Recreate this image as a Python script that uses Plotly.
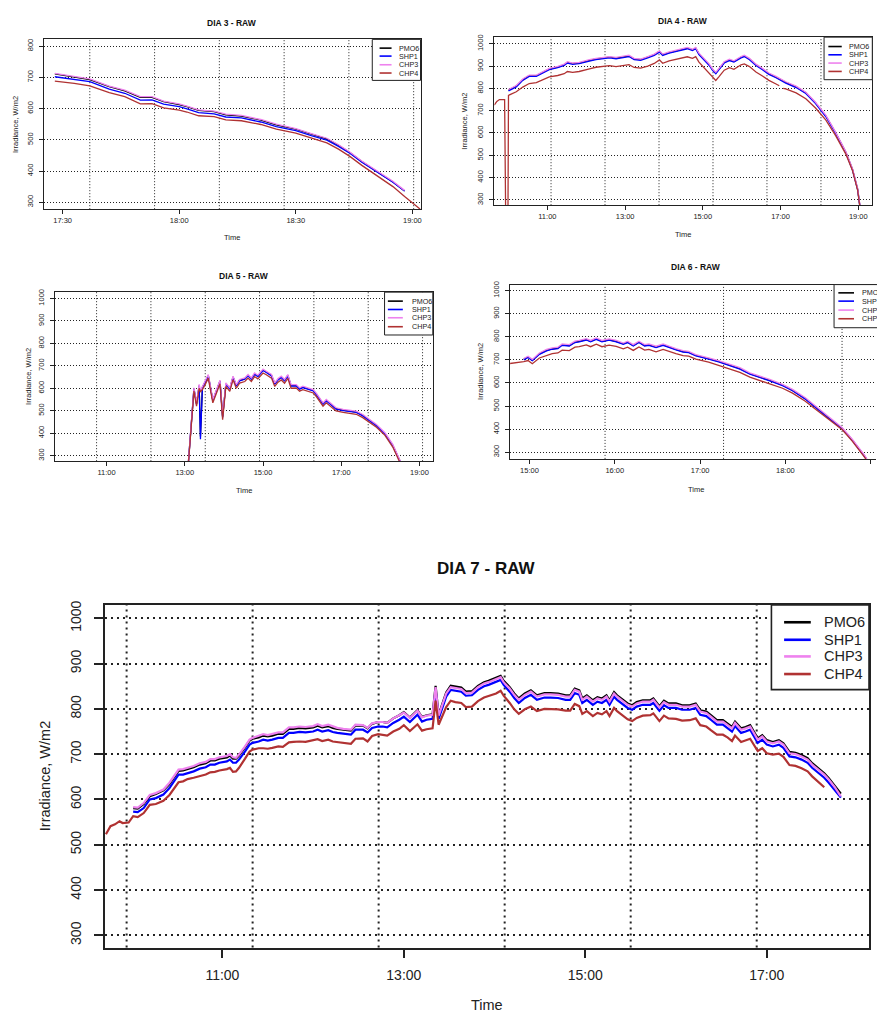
import plotly.graph_objects as go

W, H = 877, 1015
DAY = "2014-01-01 "
FONT = "Liberation Sans, Arial, Helvetica, sans-serif"

SERIES_NAMES = ["PMO6", "SHP1", "CHP3", "CHP4"]
SERIES_COLORS = ["#000000", "#0000ff", "#ee82ee", "#b03232"]

# ---------------- DIA 3 ----------------
dia3_time = ["17:28", "17:33", "17:37", "17:42", "17:46", "17:50", "17:53", "17:56", "18:00", "18:02",
             "18:05", "18:09", "18:12", "18:16", "18:21", "18:25", "18:30", "18:34", "18:38", "18:41",
             "18:44", "18:47", "18:51", "18:55", "18:58", "19:03"]
dia3_pmo6 = [711, 702, 693, 670, 657, 636, 636, 622, 613, 606, 594, 590, 580, 576, 563, 548, 534, 518,
             503, 482, 458, 430, 397, 365, 336, None]
dia3_shp1 = [702, 694, 686, 662, 649, 627, 628, 614, 606, 599, 587, 583, 573, 570, 557, 542, 529, 513,
             499, 479, 456, 428, 396, 364, 336, None]
dia3_chp3 = [713, 704, 695, 672, 659, 638, 638, 624, 615, 608, 596, 592, 582, 578, 565, 550, 536, 520,
             505, 484, 460, 432, 399, 367, 338, None]
dia3_chp4 = [688, 681, 673, 651, 638, 615, 616, 602, 595, 589, 577, 574, 564, 561, 549, 534, 521, 505,
             490, 470, 446, 418, 385, 350, 318, 268]
dia3_xticks = ["17:30", "18:00", "18:30", "19:00"]
dia3_yticks = [300, 400, 500, 600, 700, 800]
dia3_vgrid = ["17:37:00", "17:53:40", "18:10:20", "18:27:00", "18:43:40", "19:00:20"]

# ---------------- DIA 4 ----------------
dia4_time = ["09:38", "09:42", "09:46", "09:54", "09:56", "09:59", "10:00", "10:12", "10:22", "10:32",
             "10:43", "10:53", "11:03", "11:16", "11:26", "11:31", "11:39", "11:49", "11:57", "12:05",
             "12:15", "12:25", "12:36", "12:46", "12:56", "13:06", "13:14", "13:24", "13:35", "13:45",
             "13:53", "13:58", "14:08", "14:19", "14:29", "14:36", "14:44", "14:49", "14:54", "15:02",
             "15:10", "15:15", "15:20", "15:25", "15:33", "15:41", "15:48", "15:59", "16:04", "16:12",
             "16:22", "16:32", "16:42", "16:53", "16:58", "17:01", "17:04", "17:08", "17:24", "17:39",
             "17:54", "18:10", "18:25", "18:41", "18:51", "18:59", "19:03"]
dia4_pmo6 = [None, None, None, None, None, None, 792, 810, 839, 857, 857, 872, 887, 896, 906, 917, 911,
             914, 921, 926, 932, 936, 940, 936, 940, 946, 932, 929, 940, 951, 966, 951, 961, 970, 976,
             981, 973, 981, 955, 928, 906, 884, 869, 887, 917, 928, 921, 940, 946, 932, 906, 887, 866,
             851, 842, 836, 831, 827, 807, 780, 735, 676, 601, 512, 437, 348, 261]
dia4_shp1 = [None, None, None, None, None, None, 789, 807, 836, 854, 854, 869, 884, 893, 903, 914, 908,
             911, 918, 923, 929, 933, 937, 933, 937, 943, 929, 926, 937, 948, 963, 948, 958, 967, 973,
             978, 970, 978, 952, 925, 903, 881, 866, 884, 914, 925, 918, 937, 943, 929, 903, 884, 863,
             848, 839, 833, 828, 824, 804, 777, 732, 673, 598, 509, 434, 345, 258]
dia4_chp3 = [None, None, None, None, None, None, 795, 813, 842, 860, 860, 875, 890, 899, 909, 920, 914,
             917, 924, 929, 935, 939, 943, 939, 943, 949, 935, 932, 943, 954, 969, 954, 964, 973, 979,
             984, 976, 984, 958, 931, 909, 887, 872, 890, 920, 931, 924, 943, 949, 935, 909, 890, 869,
             854, 845, 839, 834, 830, 810, 783, 738, 679, 604, 515, 440, 351, 264]
dia4_chp4 = [725, 742, 750, 750, 120, 120, 769, 785, 806, 822, 826, 840, 852, 858, 866, 876, 872, 876,
             883, 888, 895, 899, 902, 898, 901, 907, 894, 891, 900, 912, 928, 913, 924, 932, 938, 942,
             935, 943, 918, 892, 871, 850, 836, 853, 882, 893, 886, 906, 910, 898, 874, 856, 836, 820,
             812, None, 800, 798, 780, 754, 712, 658, 588, 504, 432, 343, 255]
dia4_xticks = ["11:00", "13:00", "15:00", "17:00", "19:00"]
dia4_yticks = [300, 400, 500, 600, 700, 800, 900, 1000]
dia4_vgrid = ["11:05:40", "12:29:00", "13:52:20", "15:15:40", "16:39:00", "18:02:20"]

# ---------------- DIA 5 ----------------
dia5_time = ["13:05", "13:14", "13:18", "13:22", "13:24", "13:27", "13:31", "13:36", "13:43", "13:54",
             "13:58", "14:03", "14:09", "14:14", "14:19", "14:24", "14:32", "14:37", "14:42", "14:47",
             "14:52", "15:00", "15:05", "15:13", "15:18", "15:23", "15:28", "15:33", "15:38", "15:43",
             "15:51", "15:56", "16:01", "16:09", "16:17", "16:22", "16:27", "16:32", "16:37", "16:45",
             "16:52", "17:03", "17:13", "17:23", "17:33", "17:43", "17:54", "18:07", "18:19", "18:32"]
dia5_pmo6 = [252, 598, 531, 612, 385, 605, 627, 657, 546, 632, 474, 620, 598, 650, 612, 635, 642, 657,
             642, 664, 654, 681, 672, 657, 620, 639, 650, 635, 657, 612, 612, 598, 605, 598, 590, 573,
             553, 531, 546, 524, 509, 502, 499, 494, 479, 457, 435, 398, 346, 264]
dia5_shp1 = [250, 596, 529, 610, 373, 603, 625, 655, 544, 630, 470, 618, 596, 648, 610, 633, 640, 655,
             640, 662, 652, 679, 670, 655, 618, 637, 648, 633, 655, 610, 610, 596, 603, 596, 588, 571,
             551, 529, 544, 522, 507, 500, 497, 492, 477, 455, 433, 396, 344, 262]
dia5_chp3 = [254, 602, 535, 617, 590, 609, 631, 661, 550, 636, 478, 624, 602, 654, 616, 639, 646, 661,
             646, 668, 658, 685, 676, 661, 624, 643, 654, 639, 661, 616, 616, 602, 609, 602, 594, 577,
             557, 535, 550, 528, 513, 506, 503, 498, 483, 461, 439, 402, 350, 266]
dia5_chp4 = [245, 588, 520, 600, 585, 594, 615, 645, 535, 620, 460, 608, 586, 638, 600, 623, 630, 645,
             630, 652, 642, 668, 660, 645, 608, 627, 637, 622, 644, 600, 601, 587, 594, 587, 579, 562,
             542, 520, 535, 514, 499, 492, 489, 484, 469, 447, 426, 390, 338, 256]
dia5_xticks = ["11:00", "13:00", "15:00", "17:00", "19:00"]
dia5_yticks = [300, 400, 500, 600, 700, 800, 900, 1000]
dia5_vgrid = ["10:44:40", "12:08:00", "13:31:20", "14:54:40", "16:18:00", "17:41:20", "19:04:40"]

# ---------------- DIA 6 ----------------
dia6_time = ["14:46", "14:50", "14:55", "14:56", "14:59", "15:02", "15:07", "15:12", "15:16", "15:20",
             "15:23", "15:28", "15:32", "15:35", "15:40", "15:43", "15:47", "15:51", "15:56", "16:01",
             "16:06", "16:09", "16:13", "16:17", "16:21", "16:24", "16:29", "16:34", "16:38", "16:43",
             "16:48", "16:52", "16:57", "17:02", "17:06", "17:13", "17:21", "17:28", "17:35", "17:42",
             "17:49", "17:58", "18:05", "18:14", "18:21", "18:31", "18:40", "18:47", "18:56", "19:01"]
dia6_pmo6 = [None, None, None, 703, 712, 698, 726, 741, 748, 751, 765, 762, 777, 780, 788, 780, 791,
             780, 787, 780, 769, 777, 762, 777, 762, 765, 755, 765, 755, 745, 736, 733, 719, 712, 705,
             693, 676, 662, 640, 626, 611, 590, 568, 532, 496, 446, 403, 353, 281, 227]
dia6_shp1 = [None, None, None, 700, 710, 696, 724, 739, 746, 749, 763, 760, 775, 778, 786, 778, 789,
             778, 785, 778, 767, 775, 760, 775, 760, 763, 753, 763, 753, 743, 734, 731, 717, 710, 703,
             691, 674, 660, 638, 624, 609, 588, 566, 530, 494, 444, 401, 351, 279, 225]
dia6_chp3 = [None, None, None, 706, 716, 702, 730, 745, 752, 755, 769, 766, 781, 784, 792, 784, 795,
             784, 791, 784, 773, 781, 766, 781, 766, 769, 759, 769, 759, 749, 740, 737, 723, 716, 709,
             697, 680, 666, 644, 630, 615, 594, 572, 536, 500, 450, 406, 356, 284, 230]
dia6_chp4 = [684, 686, 691, 692, 697, 683, 708, 720, 727, 730, 742, 740, 755, 757, 765, 757, 768, 757,
             764, 758, 748, 755, 741, 756, 742, 745, 735, 745, 736, 727, 718, 716, 703, 697, 690, 676,
             660, 646, 625, 611, 597, 577, 556, 521, 487, 438, 397, 348, 275, 222]
dia6_xticks = ["15:00", "16:00", "17:00", "18:00", "19:00"]
dia6_yticks = [300, 400, 500, 600, 700, 800, 900, 1000]
dia6_vgrid = ["15:53:10", "17:16:30", "18:39:50"]

# ---------------- DIA 7 ----------------
dia7_time = ["09:43", "09:46", "09:49", "09:52", "09:54", "09:58", "10:01", "10:04", "10:08", "10:12",
             "10:16", "10:21", "10:25", "10:28", "10:31", "10:34", "10:37", "10:41", "10:45", "10:49",
             "10:52", "10:55", "10:58", "11:03", "11:05", "11:07", "11:09", "11:11", "11:15", "11:18",
             "11:20", "11:24", "11:27", "11:30", "11:33", "11:37", "11:40", "11:44", "11:47", "11:51",
             "11:55", "12:00", "12:03", "12:06", "12:10", "12:13", "12:16", "12:20", "12:25", "12:28",
             "12:33", "12:36", "12:39", "12:43", "12:46", "12:49", "12:53", "12:57", "13:00", "13:04",
             "13:07", "13:09", "13:12", "13:15", "13:19", "13:21", "13:23", "13:28", "13:31", "13:34",
             "13:38", "13:41", "13:45", "13:49", "13:53", "13:56", "14:01", "14:04", "14:06", "14:10",
             "14:13", "14:16", "14:20", "14:24", "14:28", "14:33", "14:37", "14:42", "14:47", "14:50",
             "14:53", "14:56", "14:58", "15:01", "15:05", "15:08", "15:11", "15:14", "15:16", "15:19",
             "15:21", "15:25", "15:28", "15:31", "15:34", "15:38", "15:43", "15:45", "15:49", "15:52",
             "15:55", "16:00", "16:04", "16:09", "16:13", "16:16", "16:20", "16:23", "16:27", "16:31",
             "16:34", "16:37", "16:39", "16:43", "16:46", "16:49", "16:54", "16:57", "17:00", "17:04",
             "17:08", "17:11", "17:15", "17:19", "17:23", "17:27", "17:30", "17:34", "17:38", "17:41",
             "17:45", "17:49"]
dia7_pmo6 = [None, None, None, None, None, None, 581, 580, 590, 607,
             612, 620, 634, 649, 663, 664, 667, 671, 677, 680,
             686, 686, 690, 693, 697, 690, 690, 697, 715, 730,
             734, 737, 741, 739, 741, 745, 745, 756, 756, 758,
             757, 759, 763, 759, 762, 758, 756, 754, 752, 763,
             763, 757, 767, 771, 771, 769, 779, 786, 793, 781,
             790, 797, 782, 786, 788, 851, 787, 836, 851, 849,
             847, 838, 839, 851, 859, 862, 868, 873, 862, 848,
             834, 823, 834, 841, 830, 835, 835, 834, 830, 830,
             845, 841, 823, 830, 819, 826, 823, 830, 819, 837,
             830, 819, 812, 808, 815, 819, 819, 823, 806, 818,
             812, 812, 808, 808, 812, 797, 794, 786, 775, 775,
             768, 760, 772, 757, 760, 764, 735, 742, 731, 727,
             731, 724, 705, 703, 698, 691, 680, 669, 658, 647,
             630, 613]
dia7_shp1 = [None, None, None, None, None, None, 573, 572, 581, 600,
             603, 611, 625, 640, 655, 655, 658, 662, 668, 671,
             677, 677, 681, 684, 688, 681, 681, 688, 706, 721,
             725, 728, 732, 730, 732, 736, 736, 747, 747, 749,
             748, 750, 754, 750, 753, 749, 747, 745, 743, 754,
             754, 748, 758, 761, 761, 759, 769, 776, 783, 771,
             780, 787, 772, 776, 778, 842, 778, 827, 842, 840,
             838, 829, 830, 842, 850, 853, 859, 864, 853, 838,
             824, 813, 824, 831, 820, 825, 825, 824, 820, 820,
             835, 831, 813, 820, 809, 816, 813, 820, 809, 827,
             820, 809, 802, 798, 805, 809, 809, 813, 796, 808,
             802, 802, 798, 798, 802, 787, 784, 776, 765, 765,
             758, 750, 762, 747, 750, 754, 725, 732, 721, 717,
             721, 714, 695, 693, 688, 681, 670, 659, 648, 637,
             620, 604]
dia7_chp3 = [None, None, None, None, None, None, 583, 582, 592, 610,
             614, 622, 637, 652, 666, 667, 670, 674, 680, 683,
             689, 689, 693, 696, 700, 693, 692, 699, 717, 732,
             736, 740, 744, 742, 744, 748, 748, 759, 759, 761,
             760, 762, 766, 762, 765, 761, 758, 756, 754, 765,
             764, 758, 768, 771, 771, 769, 779, 786, 792, 780,
             789, 796, 781, 785, 787, 848, 785, 834, 848, 846,
             844, 835, 836, 848, 856, 859, 865, 870, 859, 845,
             831, 820, 831, 838, 827, 832, 832, 831, 827, 827,
             842, 838, 820, 827, 816, 823, 820, 827, 816, 834,
             827, 816, 809, 805, 812, 816, 816, 820, 803, 815,
             809, 809, 805, 805, 809, 794, 791, 783, 772, 772,
             765, 757, 769, 754, 757, 761, 732, 739, 728, 724,
             728, 721, 702, 700, 695, 688, 677, 666, 655, 644,
             627, 607]
dia7_chp4 = [523, 541, 545, 552, 548, 549, 563, 561, 570, 588,
             590, 597, 610, 624, 638, 640, 645, 648, 652, 655,
             660, 661, 664, 667, 670, 661, 662, 670, 690, 706,
             710, 713, 713, 712, 714, 717, 716, 726, 727, 728,
             727, 730, 733, 729, 732, 728, 727, 725, 723, 734,
             735, 728, 740, 744, 743, 741, 750, 756, 764, 751,
             760, 766, 752, 755, 757, 818, 765, 804, 818, 815,
             813, 804, 805, 817, 825, 828, 834, 840, 829, 813,
             799, 789, 799, 805, 795, 800, 800, 799, 796, 796,
             811, 806, 789, 795, 784, 791, 788, 795, 784, 802,
             795, 784, 777, 773, 780, 785, 786, 790, 773, 785,
             779, 778, 774, 775, 779, 764, 761, 753, 743, 743,
             737, 729, 741, 727, 730, 734, 707, 713, 702, 699,
             701, 694, 676, 674, 669, 662, 651, 640, 627, None,
             None, None]
dia7_xticks = ["11:00", "13:00", "15:00", "17:00"]
dia7_yticks = [300, 400, 500, 600, 700, 800, 900, 1000]
dia7_vgrid = ["09:56:40", "11:20:00", "12:43:20", "14:06:40", "15:30:00", "16:53:20"]


def stamp(times):
    return [DAY + t for t in times]


def fx(px):
    return px / W


def fy(py):
    return 1 - py / H


SMALL = dict(tick=7.5, title=8.5, label=7.5, legend=7.2, ticklen=4, axis_w=1, line_w=1.3,
             grid_w=1, grid_dash="1px,2px", leg_line_w=1.6, ystand=3, xstand=0)
BIG = dict(tick=14, title=17, label=14.5, legend=14.5, ticklen=9, axis_w=1.6, line_w=2.2,
           grid_w=2, grid_dash="2px,4px", leg_line_w=2.6, ystand=7, xstand=5)

panels = [
    dict(title="DIA 3 - RAW", time=dia3_time, series=[dia3_pmo6, dia3_shp1, dia3_chp3, dia3_chp4],
         box=(44, 35, 421, 206), xr=("17:25:12", "19:02:06"), yr=(277.7, 823.3),
         xticks=dia3_xticks, yticks=dia3_yticks, vgrid=dia3_vgrid, center=232.5,
         title_y=19, xlab_y=234, ylab_x=15,
         legend=dict(box=(372.7, 35.5, 421, 76.7), rows=(44.3, 52.3, 61, 69.3), line=(380, 392), text=397),
         style=SMALL, right=True),
    dict(title="DIA 4 - RAW", time=dia4_time, series=[dia4_pmo6, dia4_shp1, dia4_chp3, dia4_chp4],
         box=(495, 33.3, 873.3, 202), xr=("09:38:18", "19:21:36"), yr=(276, 1030),
         xticks=dia4_xticks, yticks=dia4_yticks, vgrid=dia4_vgrid, center=684,
         title_y=16.7, xlab_y=231, ylab_x=465,
         legend=dict(box=(825, 33.3, 873.3, 76), rows=(42.7, 51, 59.3, 67.7), line=(829.3, 842.7), text=848.3),
         style=SMALL, right=True),
    dict(title="DIA 5 - RAW", time=dia5_time, series=[dia5_pmo6, dia5_shp1, dia5_chp3, dia5_chp4],
         box=(55, 289.3, 433.3, 459), xr=("09:40:48", "19:20:24"), yr=(275, 1028),
         xticks=dia5_xticks, yticks=dia5_yticks, vgrid=dia5_vgrid, center=244,
         title_y=273.3, xlab_y=488, ylab_x=28.3,
         legend=dict(box=(385, 289.3, 433.3, 332.3), rows=(298.3, 306.7, 315, 324), line=(388.3, 403.3), text=410),
         style=SMALL, right=True),
    dict(title="DIA 6 - RAW", time=dia6_time, series=[dia6_pmo6, dia6_shp1, dia6_chp3, dia6_chp4],
         box=(510.7, 281.7, 877, 456.7), xr=("14:46:24", "19:03:42"), yr=(271, 1026),
         xticks=dia6_xticks, yticks=dia6_yticks, vgrid=dia6_vgrid, center=696.8,
         title_y=264, xlab_y=487, ylab_x=481.7,
         legend=dict(box=(835, 281.7, 883, 325), rows=(290, 298.3, 307.3, 316), line=(839.3, 855), text=860.7),
         style=SMALL, right=False),
    dict(title="DIA 7 - RAW", time=dia7_time, series=[dia7_pmo6, dia7_shp1, dia7_chp3, dia7_chp4],
         box=(105, 603.3, 870, 947.3), xr=("09:42:18", "18:07:36"), yr=(273, 1029.5),
         xticks=dia7_xticks, yticks=dia7_yticks, vgrid=dia7_vgrid, center=487.5,
         title_y=567, xlab_y=1005, ylab_x=45,
         legend=dict(box=(772.3, 603.3, 870, 688.3), rows=(620.7, 638.3, 655, 672.7), line=(785, 811.7), text=823.3),
         style=BIG, right=True),
]

fig = go.Figure()
layout = dict(width=W, height=H, margin=dict(l=0, r=0, t=0, b=0), showlegend=False,
              paper_bgcolor="white", plot_bgcolor="white")
shapes, annotations = [], []

for i, p in enumerate(panels, start=1):
    st = p["style"]
    x0, y0, x1, y1 = p["box"]
    suffix = "" if i == 1 else str(i)
    xa, ya = "x" + suffix, "y" + suffix
    for s in p["series"]:
        assert len(s) == len(p["time"])
    for name, color, vals in zip(SERIES_NAMES, SERIES_COLORS, p["series"]):
        fig.add_trace(go.Scatter(x=stamp(p["time"]), y=vals, mode="lines", name=name,
                                 line=dict(color=color, width=st["line_w"]),
                                 xaxis=xa, yaxis=ya, connectgaps=False, hoverinfo="skip"))

    tickfont = dict(family=FONT, size=st["tick"], color="#222")
    layout["xaxis" + suffix] = dict(
        domain=[fx(x0), min(fx(x1), 1.0)], anchor=ya, type="date",
        range=[DAY + p["xr"][0], DAY + p["xr"][1]],
        tickvals=stamp(p["xticks"]), ticktext=p["xticks"], tickfont=tickfont,
        ticks="outside", ticklen=st["ticklen"], tickwidth=st["axis_w"], tickcolor="#222",
        ticklabelstandoff=st["xstand"],
        showline=True, linecolor="#222", linewidth=st["axis_w"], mirror=True,
        showgrid=False, zeroline=False, fixedrange=True)
    layout["yaxis" + suffix] = dict(
        domain=[fy(y1), fy(y0)], anchor=xa, range=list(p["yr"]),
        tickvals=p["yticks"], tickangle=-90, tickfont=tickfont,
        ticks="outside", ticklen=st["ticklen"], tickwidth=st["axis_w"], tickcolor="#222",
        ticklabelstandoff=st["ystand"],
        showline=True, linecolor="#222", linewidth=st["axis_w"], mirror=p["right"],
        showgrid=True, gridcolor="#222", gridwidth=st["grid_w"], griddash=st["grid_dash"],
        zeroline=False, fixedrange=True)

    # vertical dotted grid
    for g in p["vgrid"]:
        shapes.append(dict(type="line", xref=xa, yref=ya + " domain", x0=DAY + g, x1=DAY + g,
                           y0=0, y1=1, layer="below",
                           line=dict(color="#222", width=st["grid_w"], dash=st["grid_dash"])))

    # titles
    annotations.append(dict(text=f"<b>{p['title']}</b>", x=fx(p["center"]), y=fy(p["title_y"]),
                            xref="paper", yref="paper", showarrow=False, xanchor="center", yanchor="middle",
                            font=dict(family=FONT, size=st["title"], color="#111")))
    annotations.append(dict(text="Time", x=fx(p["center"]), y=fy(p["xlab_y"]),
                            xref="paper", yref="paper", showarrow=False, xanchor="center", yanchor="middle",
                            font=dict(family=FONT, size=st["label"], color="#222")))
    annotations.append(dict(text="Irradiance, W/m2", x=fx(p["ylab_x"]), y=fy((y0 + y1) / 2),
                            xref="paper", yref="paper", showarrow=False, textangle=-90,
                            xanchor="center", yanchor="middle",
                            font=dict(family=FONT, size=st["label"], color="#222")))

    # legend box
    lg = p["legend"]
    bx0, by0, bx1, by1 = lg["box"]
    shapes.append(dict(type="rect", xref="paper", yref="paper", x0=fx(bx0), x1=fx(bx1),
                       y0=fy(by1), y1=fy(by0), fillcolor="white",
                       line=dict(color="#222", width=st["axis_w"]), layer="above"))
    for name, color, ry in zip(SERIES_NAMES, SERIES_COLORS, lg["rows"]):
        shapes.append(dict(type="line", xref="paper", yref="paper", x0=fx(lg["line"][0]),
                           x1=fx(lg["line"][1]), y0=fy(ry), y1=fy(ry), layer="above",
                           line=dict(color=color, width=st["leg_line_w"])))
        annotations.append(dict(text=name, x=fx(lg["text"]), y=fy(ry), xref="paper", yref="paper",
                                showarrow=False, xanchor="left", yanchor="middle",
                                font=dict(family=FONT, size=st["legend"], color="#222")))

layout["shapes"] = shapes
layout["annotations"] = annotations
fig.update_layout(**layout)
fig.write_html("out.html")
